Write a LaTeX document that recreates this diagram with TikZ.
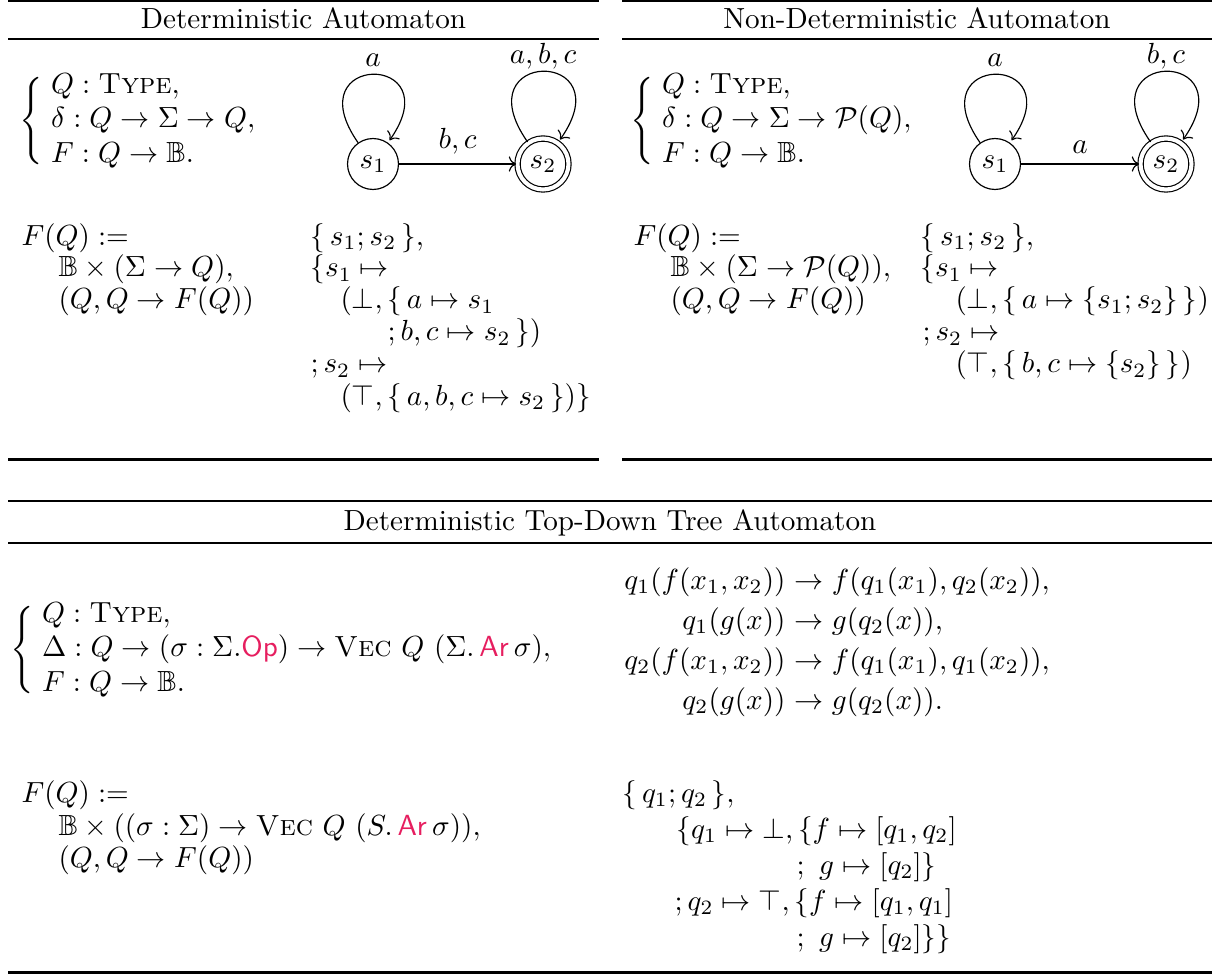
\documentclass[tikz,border=0pt]{standalone}
\usepackage{amsmath}
\usepackage{amssymb}
\usetikzlibrary{arrows.meta, automata, positioning}
\definecolor{opcol}{RGB}{230, 30, 95}
\newcommand{\sigop}[1]{\textcolor{opcol}{\mathsf{#1}}}
\tikzset{
  toprl/.style   = {line width=0.75pt},
  midrl/.style   = {line width=0.45pt},
  hdr/.style     = {anchor=base, inner sep=0pt},
  ln/.style      = {anchor=base west, inner sep=0pt},
  lhs/.style     = {anchor=base east, inner sep=0pt},
  sig/.style     = {anchor=west, inner sep=0pt},
  st/.style      = {state, minimum size=17.5pt, inner sep=0pt},
  acc/.style     = {st, accepting, double distance=1.4pt},
  trans/.style   = {->},
  lbl/.style     = {above},
  selfloop/.style = {out=125, in=55, loop,
                     every loop/.append style={looseness=9.5}},
  looplbl/.style = {above, inner sep=1.5pt, text height=1.5ex,
                    text depth=0.25ex},
}

\begin{document}
\begin{tikzpicture}[x=0.3434pt, y=0.3434pt]
  \useasboundingbox (0,0) rectangle (1218,-974);

  %% ---------------- deterministic automaton ----------------
  \draw[toprl] (8,-1) -- (599,-1);
  \node[hdr] (dtitle) at (303.5,-29) {Deterministic Automaton};
  \draw[midrl] (8,-39) -- (599,-39);

  \node[sig] (dsig) at (19,-121)
       {$\Bigg\{\;\begin{array}{@{}l@{}}
          Q : \textsc{Type},\\
          \delta : Q \to \Sigma \to Q,\\
          F : Q \to \mathbb{B}.
        \end{array}$};

  \node[st]  (ds1) at (373,-164) {$s_1$};
  \node[acc] (ds2) at (543,-164) {$s_2$};
  \path[trans] (ds1) edge node[lbl] {$b, c$} (ds2)
               (ds1) edge[selfloop] node[looplbl] {$a$} ()
               (ds2) edge[selfloop] node[looplbl] {$a, b, c$} ();

  \node[ln] (dF)  at (21,-245) {$F(Q) :=$};
  \node[ln] (dFa) at (58,-277) {$\mathbb{B} \times (\Sigma \to Q),$};
  \node[ln] (dFb) at (58,-309) {$(Q, Q \to F(Q))$};

  \node[ln] (dx1) at (310,-245) {$\{\,s_1; s_2\,\},$};
  \node[ln] (dx2) at (310,-277) {$\{s_1 \mapsto$};
  \node[ln] (dx3) at (340,-309) {$(\bot, \{\,a \mapsto s_1$};
  \node[ln] (dx4) at (387,-341) {$;b, c \mapsto s_2\,\})$};
  \node[ln] (dx5) at (310,-373) {$;s_2 \mapsto$};
  \node[ln] (dx6) at (340,-405) {$(\top, \{\,a, b, c \mapsto s_2\,\})\}$};

  \draw[toprl] (8,-459.5) -- (599,-459.5);

  %% ---------------- non-deterministic automaton ----------------
  \draw[toprl] (622,-1) -- (1212,-1);
  \node[hdr] (ntitle) at (917,-29) {Non-Deterministic Automaton};
  \draw[midrl] (622,-39) -- (1212,-39);

  \node[sig] (nsig) at (630,-121)
       {$\Bigg\{\;\begin{array}{@{}l@{}}
          Q : \textsc{Type},\\
          \delta : Q \to \Sigma \to \mathcal{P}(Q),\\
          F : Q \to \mathbb{B}.
        \end{array}$};

  \node[st]  (ns1) at (995,-164) {$s_1$};
  \node[acc] (ns2) at (1166,-164) {$s_2$};
  \path[trans] (ns1) edge node[lbl] {$a$} (ns2)
               (ns1) edge[selfloop] node[looplbl] {$a$} ()
               (ns2) edge[selfloop] node[looplbl] {$b, c$} ();

  \node[ln] (nF)  at (633,-245) {$F(Q) :=$};
  \node[ln] (nFa) at (670,-277) {$\mathbb{B} \times (\Sigma \to \mathcal{P}(Q)),$};
  \node[ln] (nFb) at (670,-309) {$(Q, Q \to F(Q))$};

  \node[ln] (nx1) at (920,-245) {$\{\,s_1; s_2\,\},$};
  \node[ln] (nx2) at (920,-277) {$\{s_1 \mapsto$};
  \node[ln] (nx3) at (955,-309) {$(\bot, \{\,a \mapsto \{s_1; s_2\}\,\})$};
  \node[ln] (nx4) at (922,-341) {$;s_2 \mapsto$};
  \node[ln] (nx5) at (955,-373) {$(\top, \{\,b, c \mapsto \{s_2\}\,\})$};

  \draw[toprl] (622,-459.5) -- (1212,-459.5);

  %% ---------------- top-down tree automaton ----------------
  \draw[toprl] (8,-501) -- (1212,-501);
  \node[hdr] (ttitle) at (610,-530) {Deterministic Top-Down Tree Automaton};
  \draw[midrl] (8,-543) -- (1212,-543);

  \node[sig] (tsig) at (10,-650)
       {$\Bigg\{\;\begin{array}{@{}l@{}}
          Q : \textsc{Type},\\
          \Delta : Q \to (\sigma : \Sigma.\sigop{Op}) \to
            \textsc{Vec}\ Q\ (\Sigma.\,\sigop{Ar}\,\sigma),\\
          F : Q \to \mathbb{B}.
        \end{array}$};

  \node[lhs] (tr1l) at (786,-589) {$q_1(f(x_1, x_2))$};
  \node[ln]  (tr1r) at (786,-589) {${} \to f(q_1(x_1), q_2(x_2)),$};
  \node[lhs] (tr2l) at (786,-629) {$q_1(g(x))$};
  \node[ln]  (tr2r) at (786,-629) {${} \to g(q_2(x)),$};
  \node[lhs] (tr3l) at (786,-669) {$q_2(f(x_1, x_2))$};
  \node[ln]  (tr3r) at (786,-669) {${} \to f(q_1(x_1), q_1(x_2)),$};
  \node[lhs] (tr4l) at (786,-709) {$q_2(g(x))$};
  \node[ln]  (tr4r) at (786,-709) {${} \to g(q_2(x)).$};

  \node[ln] (tF)  at (21,-802) {$F(Q) :=$};
  \node[ln] (tFa) at (58,-835)
       {$\mathbb{B} \times ((\sigma : \Sigma) \to
         \textsc{Vec}\ Q\ (S.\,\sigop{Ar}\,\sigma)),$};
  \node[ln] (tFb) at (58,-867) {$(Q, Q \to F(Q))$};

  \node[ln] (tx1) at (622,-802) {$\{\,q_1; q_2\,\},$};
  \node[ln] (tx2) at (676,-838) {$\{q_1 \mapsto \bot, \{f \mapsto [q_1, q_2]$};
  \node[ln] (tx3) at (796,-874) {$;\ g \mapsto [q_2]\}$};
  \node[ln] (tx4) at (674,-910) {$;q_2 \mapsto \top, \{f \mapsto [q_1, q_1]$};
  \node[ln] (tx5) at (796,-946) {$;\ g \mapsto [q_2]\}\}$};

  \draw[toprl] (8,-972.5) -- (1212,-972.5);

\end{tikzpicture}
\end{document}
